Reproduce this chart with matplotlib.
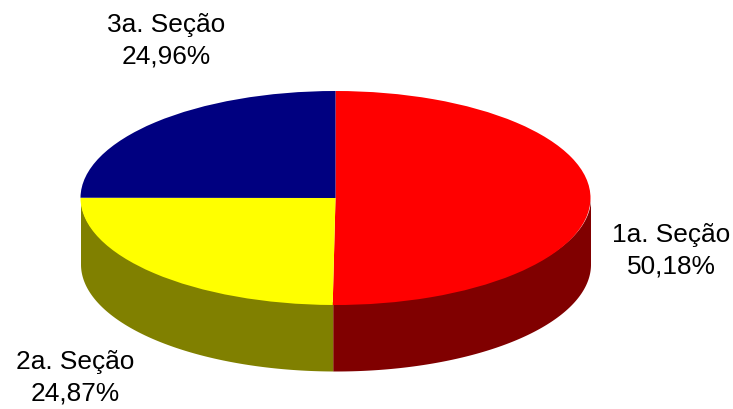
import numpy as np
import matplotlib
matplotlib.use("Agg")
import matplotlib.pyplot as plt

categories = ["1a. Seção", "2a. Seção", "3a. Seção"]
shares = [50.18, 24.87, 24.96]
share_labels = ["50,18%", "24,87%", "24,96%"]
top_colors = ["#FF0000", "#FFFF00", "#000080"]
wall_colors = ["#800000", "#808000", "#000040"]

W, H = 733, 409
CX, CY, RX, RY, DEPTH = 335.5, 198, 255, 107, 66

plt.rcParams["font.family"] = ["Liberation Sans", "DejaVu Sans"]
fig = plt.figure(figsize=(W / 100, H / 100), dpi=100)
ax = fig.add_axes([0, 0, 1, 1])

# side walls: only the front half of the ellipse (clockwise from the top)
edges = np.concatenate([[0], np.cumsum(shares)]) / sum(shares) * 360
d = DEPTH / RY
for a0, a1, c in zip(edges[:-1], edges[1:], wall_colors):
    lo, hi = max(a0, 90), min(a1, 270)
    if hi <= lo:
        continue
    t = np.radians(np.linspace(lo, hi, 200))
    x, y = np.sin(t), np.cos(t)
    # upper edge tucked under the top face so no light seam shows on the rim
    ax.fill_between(x, y - d, y * 0.97, color=c, lw=0, zorder=1)

# top face, squashed by the non-equal axes scaling
ax.pie(shares, colors=top_colors, startangle=90, counterclock=False, radius=1,
       wedgeprops=dict(linewidth=0), frame=True)
for p in ax.patches:
    p.set_zorder(2)

ax.set_aspect("auto")
ax.set_xlim(-CX / RX, (W - CX) / RX)
ax.set_ylim((CY - H) / RY, CY / RY)
ax.axis("off")


def px(xp, yp):
    return (xp - CX) / RX, (CY - yp) / RY


label_pos = [(671, 251), (75, 378), (166, 41)]
for name, val, (xp, yp) in zip(categories, share_labels, label_pos):
    x, y = px(xp, yp)
    ax.text(x, y, f"{name}\n{val}", ha="center", va="center", fontsize=18.9,
            color="black", linespacing=1.41, zorder=5)

fig.savefig("out.png", dpi=100)
